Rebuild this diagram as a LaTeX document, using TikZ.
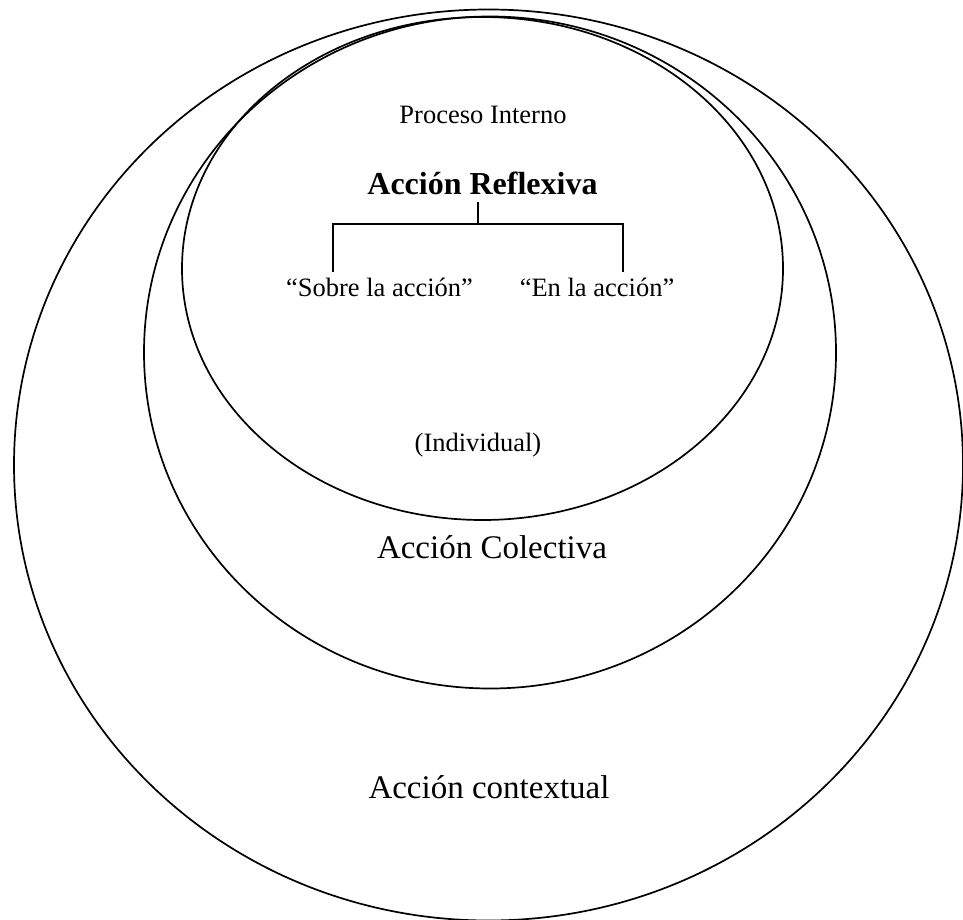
\documentclass[tikz,border=0pt]{standalone}
\usepackage{fontspec}
\setmainfont{Liberation Serif}
\begin{document}
\begin{tikzpicture}[x=1pt,y=-1pt,
  ring/.style={line width=1.7pt},
  tree/.style={line width=1.5pt},
  plain/.style={font=\fontsize{26.5}{30}\selectfont, inner sep=0pt, anchor=base},
  large/.style={font=\fontsize{33}{38}\selectfont, inner sep=0pt, anchor=base},
  title/.style={font=\fontsize{32}{36}\selectfont\bfseries, inner sep=0pt, anchor=base}]
\useasboundingbox (0,0) rectangle (963,920);
% nested spheres of action
\draw[ring] (488.5,465) ellipse [x radius=474.5, y radius=455.5];
\draw[ring] (490,352.5) ellipse [x radius=346, y radius=336];
\draw[ring] (482.5,268.5) ellipse [x radius=300.5, y radius=251.5];
% labels
\node[plain] (proc) at (483,123.5) {Proceso Interno};
\node[title] (refl) at (482.5,195) {Acción Reflexiva};
\node[plain] (sobre) at (379.5,296) {“Sobre la acción”};
\node[plain] (enla) at (597,296) {“En la acción”};
\node[plain] (indiv) at (478,451) {(Individual)};
\node[large] (colec) at (492,558) {Acción Colectiva};
\node[large] (contx) at (489,798) {Acción contextual};
% bracket from the title to its two modes
\coordinate (stem) at (478,202);
\coordinate (fork) at (478,224);
\coordinate (lefttop) at (333,224);
\coordinate (righttop) at (623,224);
\coordinate (leftend) at (333,272);
\coordinate (rightend) at (623,272);
\draw[tree] (stem) -- (fork);
\draw[tree] (leftend) -- (lefttop) -- (righttop) -- (rightend);
\end{tikzpicture}
\end{document}
